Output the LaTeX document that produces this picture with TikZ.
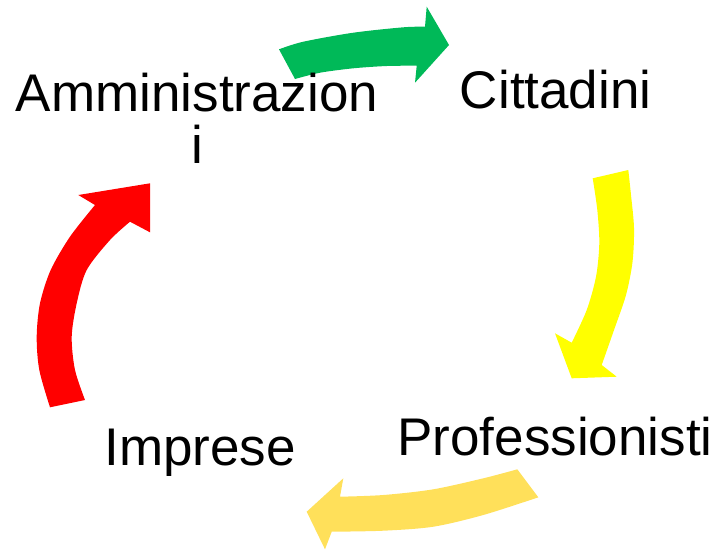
\documentclass[tikz,border=0pt]{standalone}
\usepackage{fontspec}
\setmainfont{Liberation Sans}
\definecolor{arrgreen}{RGB}{0,185,88}
\definecolor{arryellow}{RGB}{255,255,0}
\definecolor{arrgold}{RGB}{255,224,90}
\definecolor{arrred}{RGB}{255,0,0}
\begin{document}
\begin{tikzpicture}[x=1pt,y=-1pt,
  lbl/.style={inner sep=0pt,anchor=base,align=center,font=\fontsize{53}{51.7}\selectfont},
  blockarrow/.style={draw=none}]
\useasboundingbox (0,0) rectangle (727,550);
% green arrow
\fill[arrgreen,blockarrow] (295,79) -- (279,49.3)
  -- plot[smooth] coordinates {(279,49.3) (303.3,41.7) (353.3,32.7) (403.3,27.3) (425,26.7)}
  -- (426.7,6.7) -- (449,45) -- (415,82.7)
  -- plot[smooth] coordinates {(416.7,65.7) (386.7,66) (353.3,68.3) (320,72.7) (295,79)}
  -- cycle;
% yellow arrow
\fill[arryellow,blockarrow] (592.7,178.3) -- (628.3,170)
  -- plot[smooth] coordinates {(628.3,170) (631,195) (634,228) (632.5,262) (626,295) (614,330) (601.7,365)}
  -- (616.7,376.7) -- (571.7,378.3) -- (555,333.3)
  -- plot[smooth] coordinates {(571.7,342.7) (586.7,310) (596,276.7) (599.3,243.3) (597.3,210) (592.7,178.3)}
  -- cycle;
% gold arrow
\fill[arrgold,blockarrow] (517.3,469.3) -- (538.3,497.3)
  -- plot[smooth] coordinates {(538.3,497.3) (483.3,515) (433.3,526.7) (383.3,530.7) (331.7,531.7)}
  -- (325,549.3) -- (306.7,511.7) -- (343.3,478.3)
  -- plot[smooth] coordinates {(340,496.7) (383.3,495) (433.3,489.3) (483.3,478.3) (517.3,469.3)}
  -- cycle;
% red arrow
\fill[arrred,blockarrow] (50,407.3) -- (85,400)
  -- plot[smooth] coordinates {(85,400) (75,370) (71.7,336.7) (76.7,303.3) (86.7,270) (110,240) (130,221.7)}
  -- (150,232.3) -- (150,183.3) -- (78.3,195)
  -- plot[smooth] coordinates {(95,205) (70,236.7) (50.7,270) (40,303.3) (36.7,336.7) (39.3,370) (50,407.3)}
  -- cycle;
% labels
\node[lbl] (adm) at (197,163.3) {Amministrazion\\i};
\node[lbl] (cit) at (555.7,108.3) {Cittadini};
\node[lbl] (pro) at (555,455) {Professionisti};
\node[lbl] (imp) at (200,465) {Imprese};
\end{tikzpicture}
\end{document}
